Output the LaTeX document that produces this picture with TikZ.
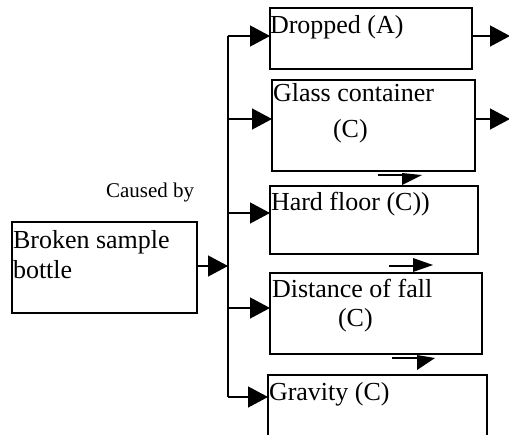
\documentclass[tikz,border=0pt]{standalone}
\usepackage{fontspec}
\setmainfont{Liberation Serif}
\usetikzlibrary{arrows.meta,calc}
\tikzset{
  box/.style={draw, line width=1.3pt, inner sep=0pt, outer sep=0pt, anchor=north west},
  txt/.style={inner sep=0pt, outer sep=0pt, anchor=base west, font=\fontsize{26}{30}\selectfont},
  small/.style={inner sep=0pt, outer sep=0pt, anchor=base west, font=\fontsize{21}{25}\selectfont},
  wire/.style={line width=1.3pt},
  arr/.style={line width=1.3pt, -{Triangle[length=20pt,width=21pt]}},
  head/.style={fill=black, draw=none}
}
\begin{document}
\begin{tikzpicture}[x=1pt, y=-1pt]
\path[use as bounding box, clip] (0,0) rectangle (509,434);

% boxes
\node[box, minimum width=185pt, minimum height=91pt] (bsb) at (12,222) {};
\node[box, minimum width=202pt, minimum height=61pt] (dropped) at (270,8) {};
\node[box, minimum width=203pt, minimum height=91pt] (glass) at (272,80) {};
\node[box, minimum width=208pt, minimum height=68pt] (hard) at (270,186) {};
\node[box, minimum width=212pt, minimum height=81pt] (dist) at (270,273) {};
\node[box, minimum width=219pt, minimum height=95pt] (grav) at (268,375) {};

% texts
\node[txt] (tbsb1) at (13,248) {Broken sample};
\node[txt] (tbsb2) at (13,278) {bottle};
\node[small] (tcaused) at (106,197) {Caused by};
\node[txt] (tdrop) at (270,33) {Dropped (A)};
\node[txt] (tglass1) at (273,101) {Glass container};
\node[txt] (tglass2) at (333,137) {(C)};
\node[txt] (thard) at (271,210) {Hard floor (C))};
\node[txt] (tdist1) at (272,297) {Distance of fall};
\node[txt] (tdist2) at (338,326) {(C)};
\node[txt] (tgrav) at (269,400) {Gravity (C)};

% trunk and branch points
\coordinate (j1) at (228,36);
\coordinate (j2) at (228,119);
\coordinate (j3) at (228,213);
\coordinate (jin) at (228,266);
\coordinate (j4) at (228,308);
\coordinate (j5) at (228,397);

\draw[wire] (j5) -- (j1);
\draw[arr] (bsb.east |- jin) -- (jin);
\draw[arr] (j1) -- (dropped.west |- j1);
\draw[arr] (j2) -- (glass.west |- j2);
\draw[arr] (j3) -- (hard.west |- j3);
\draw[arr] (j4) -- (dist.west |- j4);
\draw[arr] (j5) -- (grav.west |- j5);

% outgoing arrows on the right
\coordinate (o1) at (510,36);
\coordinate (o2) at (510,119);
\draw[arr] (dropped.east |- o1) -- (o1);
\draw[arr] (glass.east |- o2) -- (o2);

% short arrows between the boxes
\coordinate (s1a) at (378,175); \coordinate (s1b) at (422,175);
\coordinate (s2a) at (389,266); \coordinate (s2b) at (433,265);
\coordinate (s3a) at (392,358); \coordinate (s3b) at (435,358);
\draw[wire] (s1a) -- ($(s1b)+(-20,0)$);
\fill[head] (s1b) -- ++(-20,-2) -- ++(0,12) -- cycle;
\draw[wire] (s2a) -- ($(s2b)+(-20,1)$);
\fill[head] (s2b) -- ++(-20,-7) -- ++(0,14) -- cycle;
\draw[wire] (s3a) -- ($(s3b)+(-18,0)$);
\fill[head] (s3b) -- ++(-18,-3) -- ++(0,15) -- cycle;
\end{tikzpicture}
\end{document}
